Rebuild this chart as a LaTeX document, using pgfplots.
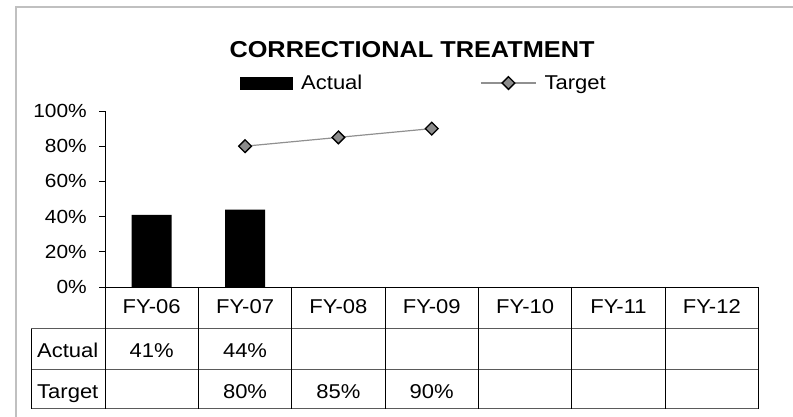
\documentclass[border=0pt]{standalone}
\usepackage{pgfplots}
\pgfplotsset{compat=1.18}
\usepackage{fontspec}
\setmainfont{Liberation Sans}[FakeStretch=1.1]

\definecolor{frameGray}{HTML}{C0C0C0}
\definecolor{lineGray}{HTML}{909090}
\definecolor{markGray}{HTML}{8C8C8C}
\definecolor{rowGray}{HTML}{5A5A5A}

\newcommand{\tabfont}{\fontsize{20}{20}\selectfont}

\pgfplotsset{
    barleg/.style={legend image code/.code={\fill[black] (0pt,-6.5pt) rectangle (53pt,6.5pt);}},
    lineleg/.style={legend image code/.code={\draw[mark repeat=2, mark phase=2, ##1] plot coordinates {(0pt,0pt) (27.5pt,0pt) (55pt,0pt)};}},
}

\begin{document}
\begin{tikzpicture}
\path[use as bounding box] (0pt,0pt) rectangle (793pt,417pt);
% outer frame of the chart area
\draw[frameGray, line width=2pt] (16pt,-5pt) -- (16pt,410pt) -- (800pt,410pt);

\begin{axis}[
    at={(105pt,130pt)},
    anchor=south west,
    scale only axis,
    width=653.5pt,
    height=176pt,
    xmin=-0.5, xmax=6.5,
    ymin=0, ymax=100,
    axis x line=bottom,
    axis y line=left,
    axis line style={-, black, line width=0.9pt},
    xtick=\empty,
    ytick={0,20,40,60,80,100},
    yticklabel={\pgfmathprintnumber{\tick}\%},
    /pgf/number format/assume math mode=true,
    yticklabel style={font=\fontsize{19}{19}\selectfont, inner sep=0pt, xshift=-12pt},
    tick align=outside,
    major tick length=6pt,
    tick style={black, line width=0.9pt},
    clip=false,
    title={CORRECTIONAL TREATMENT},
    title style={font=\bfseries\fontsize{23}{23}\selectfont, at={(0.4698,1.2994)}, anchor=base, inner sep=0pt, yshift=-5pt},
    legend columns=2,
    legend style={
        at={(0.2066,1.159)}, anchor=west,
        draw=none, fill=none, inner sep=0pt,
        font=\tabfont,
        nodes={inner sep=0pt},
        /tikz/every odd column/.append style={column sep=8pt},
        /tikz/every even column/.append style={column sep=118pt},
    },
]
\addplot[ybar, bar width=40pt, fill=black, draw=none, barleg]
    coordinates {(0,41) (1,44)};
\addlegendentry{Actual}
\addplot[color=lineGray, line width=1.2pt, mark=square*, mark size=4.5pt,
    mark options={rotate=45, fill=markGray, draw=black, line width=1.3pt, solid}, lineleg]
    coordinates {(1,80) (2,85) (3,90)};
\addlegendentry{Target}
\end{axis}

% data table under the plot
\foreach \y in {88,47,8} {
    \draw[rowGray, line width=1pt] (31pt,\y pt) -- (758.5pt,\y pt);
}
\draw[black, line width=0.9pt] (31pt,88pt) -- (31pt,8pt);
\foreach \k in {0,...,7} {
    \draw[black, line width=0.9pt] ({105pt+\k*93.357pt},130pt) -- ({105pt+\k*93.357pt},8pt);
}
\foreach \lab [count=\i from 0] in {FY-06,FY-07,FY-08,FY-09,FY-10,FY-11,FY-12} {
    \node[font=\tabfont, anchor=base, inner sep=0pt] at ({151.68pt+\i*93.357pt},103.7pt) {\lab};
}
\node[font=\tabfont, anchor=base west, inner sep=0pt] at (37pt,59pt) {Actual};
\node[font=\tabfont, anchor=base west, inner sep=0pt] at (37pt,18.7pt) {Target};
\node[font=\tabfont, anchor=base, inner sep=0pt] at (151.68pt,59pt) {41\%};
\node[font=\tabfont, anchor=base, inner sep=0pt] at (245.04pt,59pt) {44\%};
\node[font=\tabfont, anchor=base, inner sep=0pt] at (245.04pt,18.7pt) {80\%};
\node[font=\tabfont, anchor=base, inner sep=0pt] at (338.39pt,18.7pt) {85\%};
\node[font=\tabfont, anchor=base, inner sep=0pt] at (431.75pt,18.7pt) {90\%};
\end{tikzpicture}
\end{document}
